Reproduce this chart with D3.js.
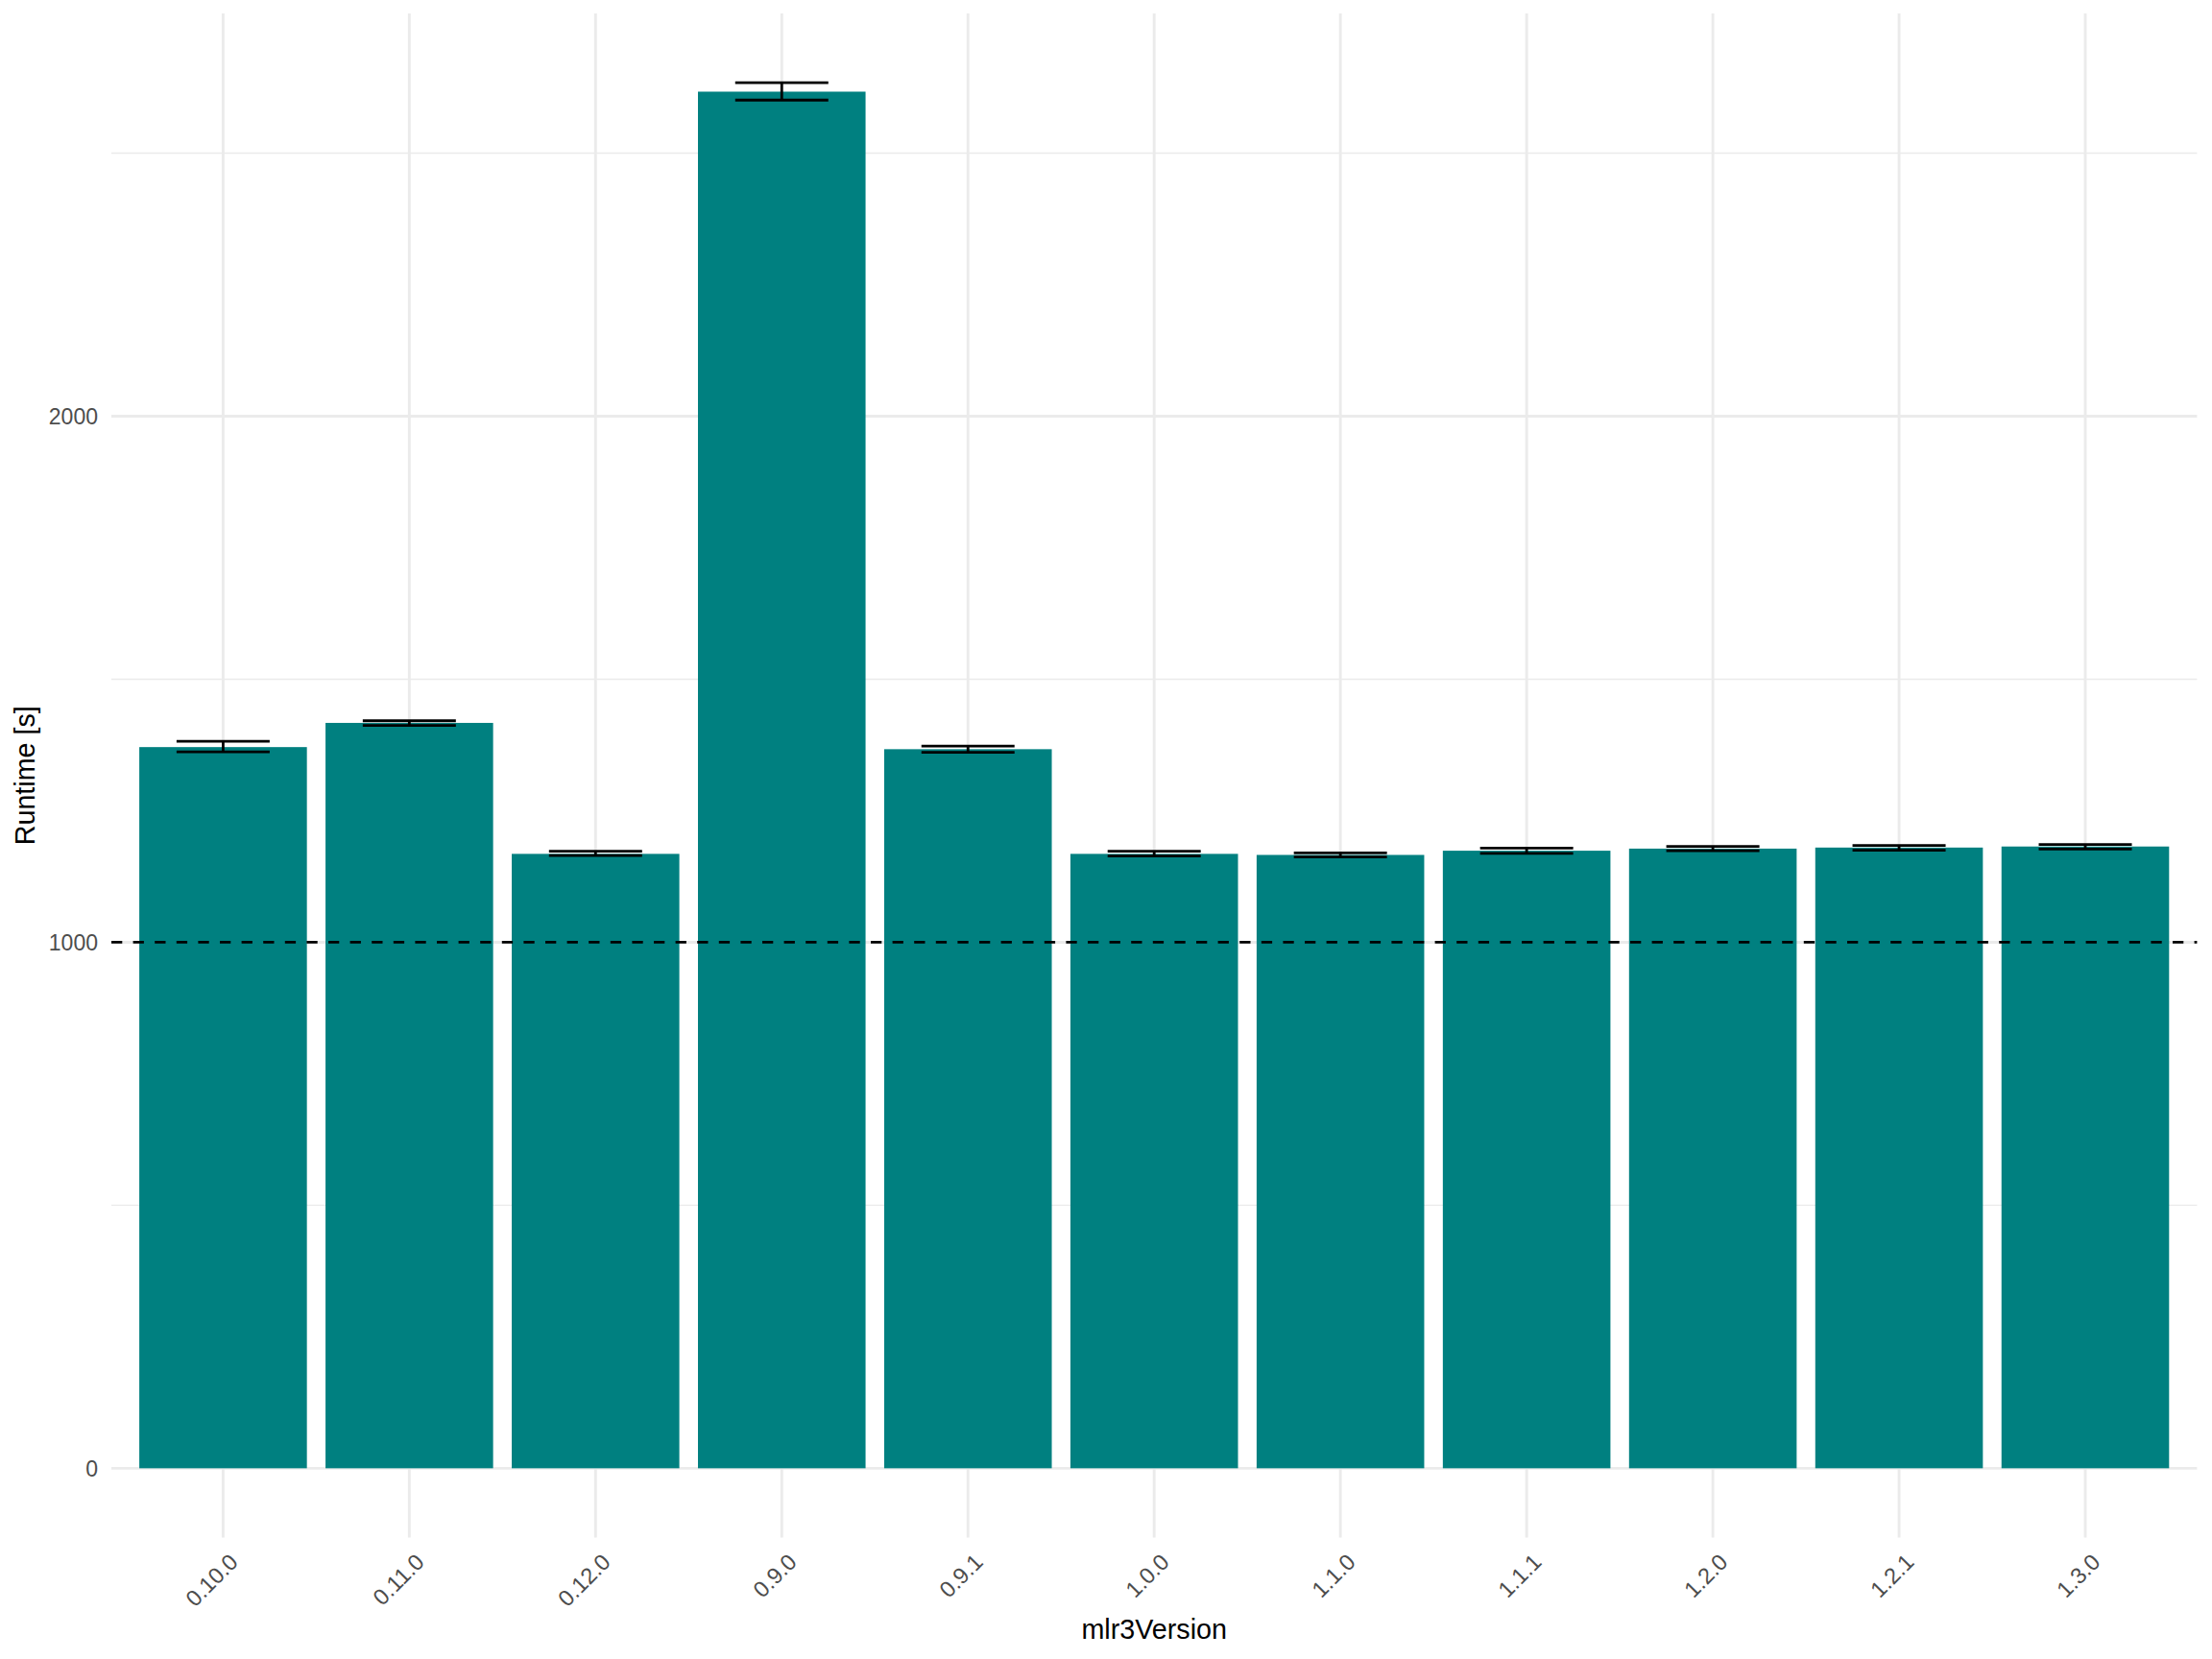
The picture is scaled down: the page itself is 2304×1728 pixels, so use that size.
<!DOCTYPE html>
<html>
<head>
<meta charset="utf-8">
<script src="https://cdn.jsdelivr.net/npm/d3@7/dist/d3.min.js"></script>
<style>
  html, body { margin: 0; padding: 0; background: #fff; }
  svg { display: block; font-family: "Liberation Sans", Arial, sans-serif; }
</style>
</head>
<body>
<svg id="chart" width="2304" height="1728"></svg>
<script>
const categories = ["0.10.0", "0.11.0", "0.12.0", "0.9.0", "0.9.1", "1.0.0", "1.1.0", "1.1.1", "1.2.0", "1.2.1", "1.3.0"];
const meanRuntime = [1371, 1417, 1168, 2617, 1367, 1168, 1166, 1174, 1178, 1180, 1182];
const lowerRuntime = [1362, 1412, 1165, 2601, 1361, 1164, 1162, 1169, 1174, 1175, 1177];
const upperRuntime = [1382, 1421, 1173, 2634, 1373, 1173, 1170, 1179, 1182, 1184, 1186];
const yMajorTicks = [0, 1000, 2000];
const yMinorTicks = [500, 1500, 2500];
const referenceLine = 1000;
const xTitle = "mlr3Version";
const yTitle = "Runtime [s]";

const panel = { left: 116, right: 2288.4, top: 14, bottom: 1601.5 };
const svg = d3.select("#chart");

const x = d3.scaleBand()
  .domain(categories)
  .range([panel.left, panel.right])
  .paddingInner(0.1)
  .paddingOuter(0.15);

const maxV = d3.max(upperRuntime);
const y = d3.scaleLinear()
  .domain([-0.05 * maxV, 1.05 * maxV])
  .range([panel.bottom, panel.top]);

const grid = "#EBEBEB";
const gGrid = svg.append("g");
gGrid.selectAll("line.ymin").data(yMinorTicks).join("line")
  .attr("x1", panel.left).attr("x2", panel.right)
  .attr("y1", d => y(d)).attr("y2", d => y(d))
  .attr("stroke", grid).attr("stroke-width", 1.45);
gGrid.selectAll("line.ymaj").data(yMajorTicks).join("line")
  .attr("x1", panel.left).attr("x2", panel.right)
  .attr("y1", d => y(d)).attr("y2", d => y(d))
  .attr("stroke", grid).attr("stroke-width", 2.9);
gGrid.selectAll("line.xmaj").data(categories).join("line")
  .attr("x1", d => x(d) + x.bandwidth() / 2).attr("x2", d => x(d) + x.bandwidth() / 2)
  .attr("y1", panel.top).attr("y2", panel.bottom)
  .attr("stroke", grid).attr("stroke-width", 2.9);

const data = categories.map((c, i) => ({ c, m: meanRuntime[i], lo: lowerRuntime[i], hi: upperRuntime[i] }));

svg.append("g").selectAll("rect").data(data).join("rect")
  .attr("x", d => x(d.c))
  .attr("width", x.bandwidth())
  .attr("y", d => y(d.m))
  .attr("height", d => y(0) - y(d.m))
  .attr("fill", "#008080");

svg.append("line")
  .attr("x1", panel.left).attr("x2", panel.right)
  .attr("y1", y(referenceLine)).attr("y2", y(referenceLine))
  .attr("stroke", "#000").attr("stroke-width", 2.8)
  .attr("stroke-dasharray", "11.3,11.3");

const capHalf = x.step() * 0.25;
const eb = svg.append("g").attr("stroke", "#000").attr("stroke-width", 2.8).attr("fill", "none");
data.forEach(d => {
  const cx = x(d.c) + x.bandwidth() / 2;
  eb.append("line").attr("x1", cx).attr("x2", cx).attr("y1", y(d.lo)).attr("y2", y(d.hi));
  eb.append("line").attr("x1", cx - capHalf).attr("x2", cx + capHalf).attr("y1", y(d.lo)).attr("y2", y(d.lo));
  eb.append("line").attr("x1", cx - capHalf).attr("x2", cx + capHalf).attr("y1", y(d.hi)).attr("y2", y(d.hi));
});

svg.append("g").selectAll("text").data(yMajorTicks).join("text")
  .attr("x", 102).attr("y", d => y(d)).attr("dy", "0.36em")
  .attr("text-anchor", "end")
  .attr("font-size", 23).attr("fill", "#4D4D4D")
  .text(d => d);

svg.append("g").selectAll("text").data(categories).join("text")
  .attr("transform", d => `translate(${x(d) + x.bandwidth() / 2 + 5},${panel.bottom + 15}) rotate(-45)`)
  .attr("text-anchor", "end")
  .attr("dy", "0.72em")
  .attr("font-size", 23.5).attr("fill", "#4D4D4D")
  .text(d => d);

svg.append("text")
  .attr("x", (panel.left + panel.right) / 2).attr("y", 1706.7)
  .attr("text-anchor", "middle").attr("font-size", 28.7).attr("fill", "#000")
  .text(xTitle);

svg.append("text")
  .attr("transform", `translate(36,${(panel.top + panel.bottom) / 2}) rotate(-90)`)
  .attr("text-anchor", "middle").attr("font-size", 28.7).attr("fill", "#000")
  .text(yTitle);
</script>
</body>
</html>
